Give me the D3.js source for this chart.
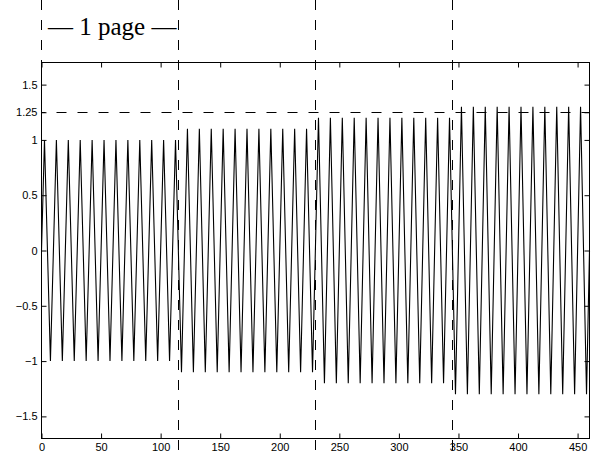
<!DOCTYPE html>
<html>
<head>
<meta charset="utf-8">
<script src="https://cdn.jsdelivr.net/npm/d3@7"></script>
<style>
  html, body { margin: 0; padding: 0; background: #fff; }
  svg { display: block; }
  .tick text { font-family: "Liberation Sans", Arial, Helvetica, sans-serif; font-size: 11px; fill: #000; }
  .tick line { stroke: #000; }
</style>
</head>
<body>
<svg id="chart" width="596" height="454"></svg>
<script>
// Page boundaries (in samples) and per-page gain of the test tone
const pageEdges = [0, 115, 230, 345, 460];
const pageGain = [1.0, 1.1, 1.2, 1.3];

// Signal vertices: start, every peak / trough (every 5 samples from 2.5), end
const signalX = [0].concat(d3.range(2.5, 460, 5), [460]);
const signalY = [
  0,
  // page 1
  1, -1, 1, -1, 1, -1, 1, -1, 1, -1, 1, -1, 1, -1, 1, -1, 1, -1, 1, -1, 1, -1, 1,
  // page 2
  -1.1, 1.1, -1.1, 1.1, -1.1, 1.1, -1.1, 1.1, -1.1, 1.1, -1.1, 1.1, -1.1, 1.1, -1.1, 1.1, -1.1, 1.1, -1.1, 1.1, -1.1, 1.1, -1.1,
  // page 3
  1.2, -1.2, 1.2, -1.2, 1.2, -1.2, 1.2, -1.2, 1.2, -1.2, 1.2, -1.2, 1.2, -1.2, 1.2, -1.2, 1.2, -1.2, 1.2, -1.2, 1.2, -1.2, 1.2,
  // page 4
  -1.3, 1.3, -1.3, 1.3, -1.3, 1.3, -1.3, 1.3, -1.3, 1.3, -1.3, 1.3, -1.3, 1.3, -1.3, 1.3, -1.3, 1.3, -1.3, 1.3, -1.3, 1.3, -1.3,
  0
];

// Reference level
const refLevel = 1.25;

// Axis ticks
const xTicks = [0, 50, 100, 150, 200, 250, 300, 350, 400, 450];
const xTickLabels = ["0", "50", "100", "150", "200", "250", "300", "350", "400", "450"];
const yTicks = [-1.5, -1, -0.5, 0, 0.5, 1, 1.25, 1.5];
const yTickLabels = ["\u22121.5", "\u22121", "\u22120.5", "0", "0.5", "1", "1.25", "1.5"];

const xDomain = [0, 460];
const yDomain = [-1.7, 1.7];

const W = 596, H = 454;
const padLeft = 41.5, padTop = 62.5, plotW = 548, plotH = 376;

const svg = d3.select("#chart");
const x = d3.scaleLinear().domain(xDomain).range([0, plotW]);
const y = d3.scaleLinear().domain(yDomain).range([plotH, 0]);

const g = svg.append("g").attr("transform", `translate(${padLeft},${padTop})`);

// Signal
const points = signalX.map((v, i) => [v, signalY[i]]);
g.append("path")
  .datum(points)
  .attr("fill", "none")
  .attr("stroke", "#000")
  .attr("stroke-width", 1.1)
  .attr("d", d3.line().x(d => x(d[0])).y(d => y(d[1])));

// Reference level dashed line
g.append("line")
  .attr("x1", x(xDomain[0])).attr("x2", x(xDomain[1]))
  .attr("y1", Math.round(y(refLevel))).attr("y2", Math.round(y(refLevel)))
  .attr("stroke", "#000").attr("stroke-width", 1)
  .attr("stroke-dasharray", "10,11")
  .attr("stroke-dashoffset", 6);

// Axes with inward ticks, mirrored on top and right
const fmtX = (d) => xTickLabels[xTicks.indexOf(d)];
const fmtY = (d) => yTickLabels[yTicks.indexOf(d)];

const axB = g.append("g").attr("transform", `translate(0,${plotH})`)
  .call(d3.axisBottom(x).tickValues(xTicks).tickFormat(fmtX).tickSizeInner(-5).tickSizeOuter(0).tickPadding(5));
const axT = g.append("g")
  .call(d3.axisTop(x).tickValues(xTicks).tickFormat("").tickSizeInner(-5).tickSizeOuter(0));
const axL = g.append("g")
  .call(d3.axisLeft(y).tickValues(yTicks).tickFormat(fmtY).tickSizeInner(-5).tickSizeOuter(0).tickPadding(4));
const axR = g.append("g").attr("transform", `translate(${plotW},0)`)
  .call(d3.axisRight(y).tickValues(yTicks).tickFormat("").tickSizeInner(-5).tickSizeOuter(0));
[axB, axT, axL, axR].forEach(a => a.select(".domain").remove());

// Box
g.append("rect")
  .attr("x", 0).attr("y", 0).attr("width", plotW).attr("height", plotH)
  .attr("fill", "none").attr("stroke", "#000").attr("stroke-width", 1);

// Page boundary markers spanning the figure
pageEdges.slice(0, 4).forEach((edge, i) => {
  const px = Math.round(padLeft + x(edge)) - 0.5;
  svg.append("line")
    .attr("x1", px).attr("x2", px)
    .attr("y1", 0).attr("y2", i === 0 ? padTop : H)
    .attr("stroke", "#000").attr("stroke-width", 1)
    .attr("stroke-dasharray", "10,10");
});

// Page width annotation
svg.append("text")
  .attr("x", 48).attr("y", 35)
  .attr("font-family", "'Liberation Serif', 'Times New Roman', Times, serif")
  .attr("font-size", 25)
  .attr("fill", "#000")
  .text("\u2014 1 page \u2014");
</script>
</body>
</html>
